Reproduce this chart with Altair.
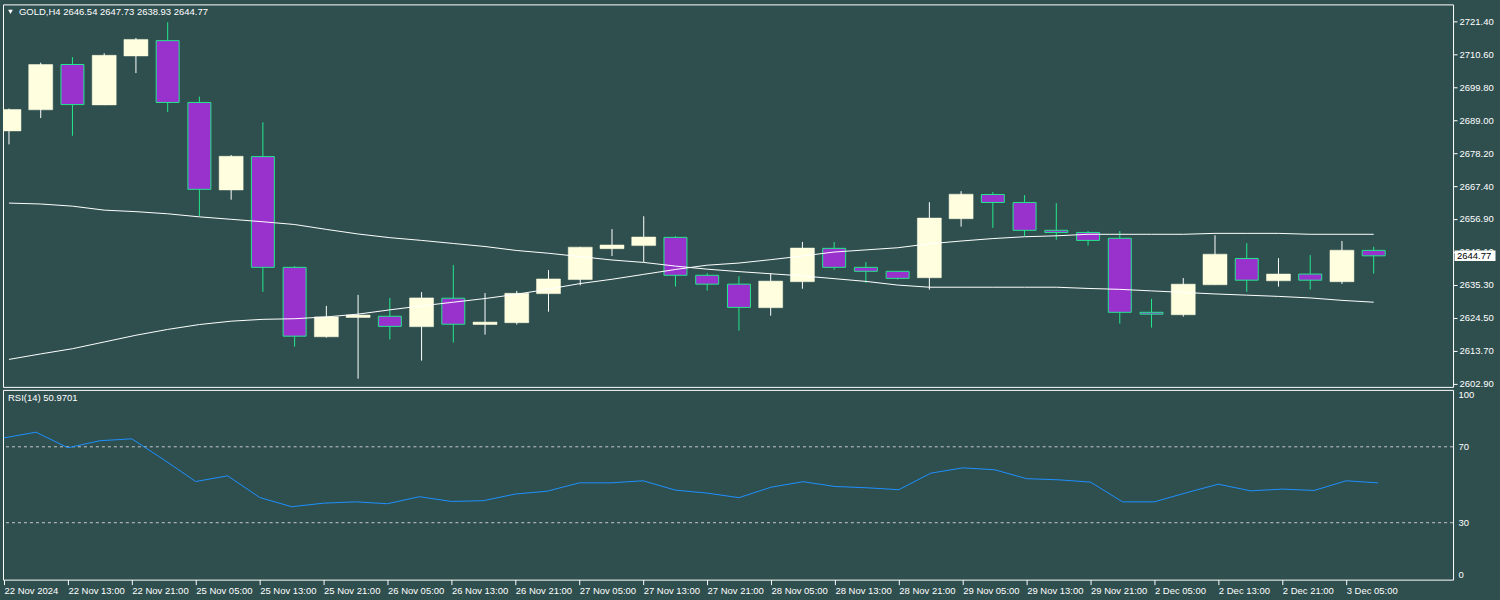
import altair as alt
import pandas as pd

# ---------------- data ----------------
opens = [2685.6, 2692.5, 2707.3, 2694.1, 2710.1, 2715.1, 2694.9, 2666.3, 2677.2, 2641.0,
         2618.3, 2624.6, 2625.0, 2621.6, 2630.9, 2622.3, 2622.9, 2632.4, 2637.0, 2647.1,
         2648.1, 2650.8, 2638.4, 2635.5, 2627.8, 2636.3, 2647.2, 2641.0, 2639.7, 2637.6,
         2656.9, 2664.8, 2662.2, 2653.1, 2652.4, 2650.5, 2626.3, 2625.5, 2635.3, 2643.9,
         2636.6, 2638.8, 2636.3, 2646.54]
highs = [2692.9, 2707.9, 2709.7, 2711.0, 2716.0, 2721.1, 2696.8, 2677.7, 2688.4, 2641.4,
         2628.4, 2632.0, 2631.0, 2632.9, 2641.8, 2632.6, 2633.3, 2640.1, 2647.7, 2653.5,
         2657.7, 2651.2, 2639.1, 2638.1, 2639.1, 2649.3, 2649.3, 2642.7, 2639.8, 2662.3,
         2665.9, 2665.6, 2664.6, 2662.0, 2652.9, 2652.9, 2630.7, 2637.5, 2651.5, 2648.9,
         2644.0, 2645.0, 2649.6, 2647.73]
lows = [2681.2, 2689.8, 2684.0, 2694.0, 2704.5, 2691.8, 2657.7, 2663.1, 2633.0, 2615.1,
        2618.0, 2604.6, 2617.4, 2610.5, 2616.4, 2619.0, 2622.3, 2626.5, 2635.1, 2644.7,
        2642.7, 2634.7, 2633.4, 2620.3, 2625.2, 2634.0, 2640.2, 2635.9, 2637.0, 2633.7,
        2654.3, 2653.9, 2651.2, 2650.0, 2648.1, 2622.6, 2621.3, 2624.9, 2635.3, 2633.0,
        2634.7, 2633.7, 2635.6, 2638.93]
closes = [2692.6, 2707.3, 2694.2, 2710.3, 2715.5, 2694.9, 2666.5, 2677.3, 2641.0, 2618.5,
          2624.8, 2625.4, 2621.7, 2631.0, 2622.4, 2623.1, 2632.5, 2637.2, 2647.6, 2648.3,
          2650.9, 2638.4, 2635.5, 2627.9, 2636.5, 2647.3, 2641.0, 2639.7, 2637.4, 2657.1,
          2664.9, 2662.2, 2653.1, 2652.4, 2649.8, 2626.3, 2625.7, 2635.5, 2645.3, 2636.8,
          2638.8, 2636.8, 2646.6, 2644.77]

ma_slow = [2662.0, 2661.7, 2661.0, 2659.7, 2659.2, 2658.5, 2657.5, 2656.7, 2655.9, 2655.0,
           2653.4, 2651.9, 2650.7, 2649.8, 2648.8, 2647.8, 2646.5, 2645.6, 2644.5, 2643.4,
           2642.6, 2641.4, 2640.4, 2639.6, 2638.9, 2638.2, 2637.3, 2636.4, 2635.2, 2634.5,
           2634.5, 2634.5, 2634.5, 2634.5, 2634.1, 2633.8, 2633.3, 2632.8, 2632.3, 2631.9,
           2631.5, 2631.0, 2630.2, 2629.6]
ma_fast = [2610.9, 2612.7, 2614.4, 2616.6, 2618.8, 2620.7, 2622.3, 2623.4, 2624.0, 2624.2,
           2624.8, 2625.7, 2627.1, 2628.4, 2629.6, 2630.8, 2632.2, 2633.9, 2635.7, 2637.1,
           2638.7, 2640.3, 2641.7, 2642.4, 2643.5, 2644.7, 2646.0, 2646.7, 2647.4, 2648.7,
           2649.6, 2650.4, 2651.0, 2651.3, 2651.8, 2651.8, 2651.8, 2651.8, 2652.1, 2652.1,
           2652.1, 2651.8, 2651.8, 2651.8]

rsi = [74.7, 77.7, 69.5, 73.2, 74.2, 63.2, 51.7, 54.7, 43.3, 38.4,
       40.3, 41.0, 40.0, 43.7, 41.2, 41.6, 45.1, 46.6, 51.0, 51.0,
       52.1, 47.2, 45.6, 43.2, 48.7, 51.6, 49.1, 48.4, 47.4, 56.1,
       58.9, 57.9, 53.2, 52.6, 51.4, 41.0, 41.0, 45.8, 50.3, 46.8,
       47.7, 47.0, 52.1, 50.97]

tick_pos = [0, 2, 4, 6, 8, 10, 12, 14, 16, 18, 20, 22, 24, 26, 28, 30, 32, 34, 36, 38, 40, 42]
tick_labels = ["22 Nov 2024", "22 Nov 13:00", "22 Nov 21:00", "25 Nov 05:00", "25 Nov 13:00",
               "25 Nov 21:00", "26 Nov 05:00", "26 Nov 13:00", "26 Nov 21:00", "27 Nov 05:00",
               "27 Nov 13:00", "27 Nov 21:00", "28 Nov 05:00", "28 Nov 13:00", "28 Nov 21:00",
               "29 Nov 05:00", "29 Nov 13:00", "29 Nov 21:00", "2 Dec 05:00", "2 Dec 13:00",
               "2 Dec 21:00", "3 Dec 05:00"]

price_ticks = [2602.9, 2613.7, 2624.5, 2635.3, 2646.1, 2656.9, 2667.4, 2678.2,
               2689.0, 2699.8, 2710.6, 2721.4]
rsi_ticks = [0, 30, 70, 100]
rsi_levels = [70, 30]

title_text = "GOLD,H4  2646.54 2647.73 2638.93 2644.77"
rsi_text = "RSI(14) 50.9701"

# ---------------- styling ----------------
BG = "#2F4F4F"
BULL = "#FFFFE0"
BEAR = "#9932CC"
GREEN = "#22E88C"
FONT = "Liberation Sans"
FS = 9.5

df = pd.DataFrame({"i": list(range(len(opens))), "open": opens, "high": highs,
                   "low": lows, "close": closes, "ma_slow": ma_slow,
                   "ma_fast": ma_fast, "rsi": rsi})
df["dir"] = ["up" if c >= o else "down" for o, c in zip(opens, closes)]

XDOM = [-0.03125, 45.34375]
xscale = alt.Scale(domain=XDOM, nice=False, zero=False)
yscale = alt.Scale(domain=[2601.92, 2726.95], nice=False, zero=False)

price_axis = alt.Axis(orient="right", values=price_ticks, format=".2f", domain=False,
                      grid=False, ticks=True, tickSize=4, tickColor="white",
                      labelColor="white", labelFont=FONT, labelFontSize=FS,
                      labelPadding=2, title=None, labelOverlap=False)

base = alt.Chart(df)
up = base.transform_filter("datum.dir == 'up'")
down = base.transform_filter("datum.dir == 'down'")
xq = alt.X("i:Q", scale=xscale, axis=None)

wick_up = up.mark_rule(strokeWidth=1, color="#FFFFFF", clip=True).encode(
    x=xq, y=alt.Y("low:Q", scale=yscale, axis=price_axis), y2="high:Q")
wick_dn = down.mark_rule(strokeWidth=1, color=GREEN, clip=True).encode(
    x=xq, y=alt.Y("low:Q", scale=yscale, axis=price_axis), y2="high:Q")
body_up = up.mark_bar(width=24, fill=BULL, stroke=BULL, strokeWidth=0.5, clip=True).encode(
    x=xq, y=alt.Y("open:Q", scale=yscale, axis=price_axis), y2="close:Q")
body_dn = down.mark_bar(width=23, fill=BEAR, stroke=GREEN, strokeWidth=1, clip=True).encode(
    x=xq, y=alt.Y("open:Q", scale=yscale, axis=price_axis), y2="close:Q")
line_slow = base.mark_line(color="white", strokeWidth=1, clip=True).encode(
    x=xq, y=alt.Y("ma_slow:Q", scale=yscale, axis=price_axis))
line_fast = base.mark_line(color="white", strokeWidth=1, clip=True).encode(
    x=xq, y=alt.Y("ma_fast:Q", scale=yscale, axis=price_axis))

last_df = pd.DataFrame({"price": [closes[-1]]})
last_box = alt.Chart(last_df).transform_calculate(
    top="datum.price + 1.7", bot="datum.price - 1.7"
).mark_rect(color="white").encode(
    x=alt.value(1453.5), x2=alt.value(1494.5),
    y=alt.Y("top:Q", scale=yscale, axis=price_axis), y2="bot:Q")
last_txt = alt.Chart(last_df).mark_text(align="left", baseline="middle", font=FONT,
                                        fontSize=FS, color="#000000").encode(
    x=alt.value(1456), y=alt.Y("price:Q", scale=yscale, axis=price_axis),
    text=alt.Text("price:Q", format=".2f"))

title_df = pd.DataFrame({"t": [title_text]})
title_mark = alt.Chart(title_df).mark_text(align="left", baseline="middle", font=FONT,
                                           fontSize=FS, color="white").encode(
    x=alt.value(16), y=alt.value(7.5), text="t:N")
tri = alt.Chart(title_df).mark_point(shape="triangle-down", filled=True, color="white",
                                     size=22, opacity=1).encode(
    x=alt.value(7.5), y=alt.value(7.5))

main = alt.layer(wick_up, wick_dn, body_up, body_dn, line_slow, line_fast, last_box,
                 last_txt, title_mark, tri).properties(width=1452, height=383)

# ---------------- RSI panel ----------------
label_expr = " : ".join(f"datum.value == {p} ? '{l}'" for p, l in zip(tick_pos, tick_labels)) + " : ''"
x_axis = alt.Axis(orient="bottom", values=tick_pos, labelExpr=label_expr, domain=False,
                  grid=False, ticks=True, tickSize=5, tickColor="white", labelColor="white",
                  labelFont=FONT, labelFontSize=FS, labelAlign="left", labelPadding=1,
                  labelOverlap=False, labelFlush=False, title=None)
rscale = alt.Scale(domain=[0, 100], nice=False, zero=False)
rsi_axis = alt.Axis(orient="right", values=rsi_ticks, format="d", domain=False, grid=False,
                    ticks=False, labelColor="white", labelFont=FONT, labelFontSize=FS,
                    labelPadding=5, labelFlush=True, labelOverlap=False, title=None)

lv_df = pd.DataFrame({"lv": rsi_levels})
levels = alt.Chart(lv_df).mark_rule(color="#C8C8C8", strokeDash=[3, 3], strokeWidth=1).encode(
    y=alt.Y("lv:Q", scale=rscale, axis=rsi_axis))
rsi_line = base.mark_line(color="#1E90FF", strokeWidth=1, clip=True).encode(
    x=alt.X("i:Q", scale=xscale, axis=x_axis),
    y=alt.Y("rsi:Q", scale=rscale, axis=rsi_axis))
rsi_df = pd.DataFrame({"t": [rsi_text]})
rsi_title = alt.Chart(rsi_df).mark_text(align="left", baseline="middle", font=FONT,
                                        fontSize=FS, color="white").encode(
    x=alt.value(5), y=alt.value(8), text="t:N")

rsi_panel = alt.layer(levels, rsi_line, rsi_title).properties(width=1452, height=190)

chart = alt.vconcat(main, rsi_panel, spacing=3, bounds="flush").properties(
    background=BG,
    padding={"left": 2, "top": 3, "right": 4, "bottom": 5},
).configure_view(stroke="white", strokeWidth=1).configure_axis(labelOverlap=False)

chart.save("out.html", embed_options={"renderer": "svg", "actions": False})
